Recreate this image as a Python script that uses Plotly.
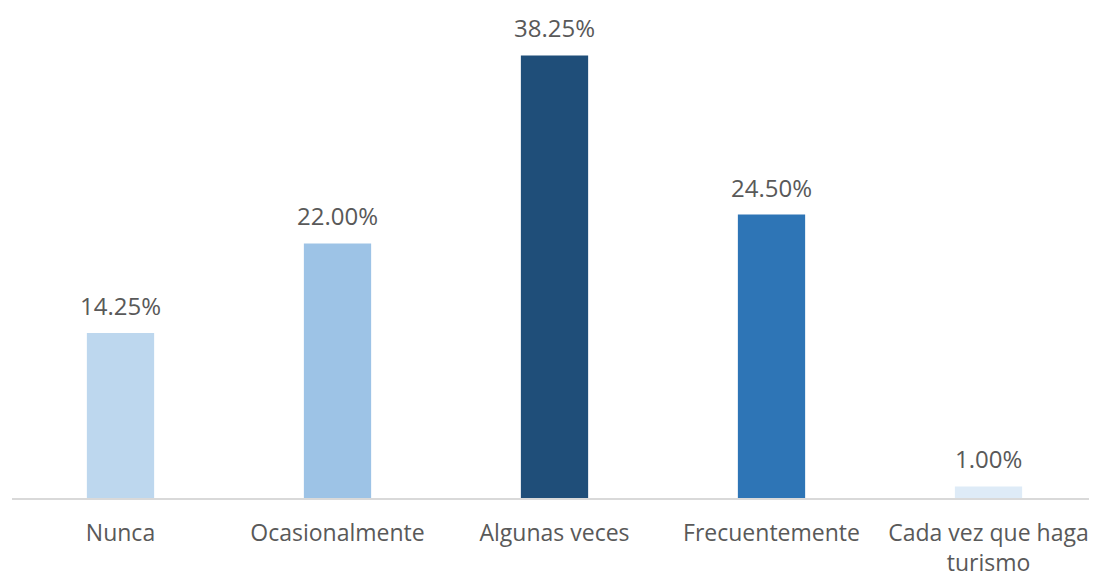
import plotly.graph_objects as go

categories = ["Nunca", "Ocasionalmente", "Algunas veces", "Frecuentemente", "Cada vez que haga<br>turismo"]
values = [14.25, 22.00, 38.25, 24.50, 1.00]
labels = ["14.25%", "22.00%", "38.25%", "24.50%", "1.00%"]
colors = ["#BDD7EE", "#9DC3E6", "#1F4E79", "#2E75B6", "#DEEBF7"]

font_family = "'Open Sans', sans-serif"
text_color = "#595959"

fig = go.Figure()
fig.add_trace(go.Bar(
    x=categories, y=values, marker=dict(color=colors, line=dict(width=0)),
    width=0.31, hoverinfo="skip",
))

for c, v, t in zip(categories, values, labels):
    fig.add_annotation(x=c, y=v, text=t, showarrow=False, yanchor="bottom",
                       yshift=9, font=dict(size=24, color=text_color, family=font_family))

fig.update_layout(
    width=1089, height=569,
    margin=dict(l=4, r=0, t=4, b=79),
    plot_bgcolor="white", paper_bgcolor="white",
    showlegend=False,
    font=dict(family=font_family, size=23, color=text_color),
    xaxis=dict(showline=True, linecolor="#D9D9D9", linewidth=2,
               ticks="outside", ticklen=13, tickcolor="rgba(0,0,0,0)",
               automargin=False,
               tickfont=dict(size=23, color=text_color), showgrid=False),
    yaxis=dict(range=[0, 42], visible=False, showgrid=False, zeroline=False,
               automargin=False),
)

fig.write_html("out.html")
